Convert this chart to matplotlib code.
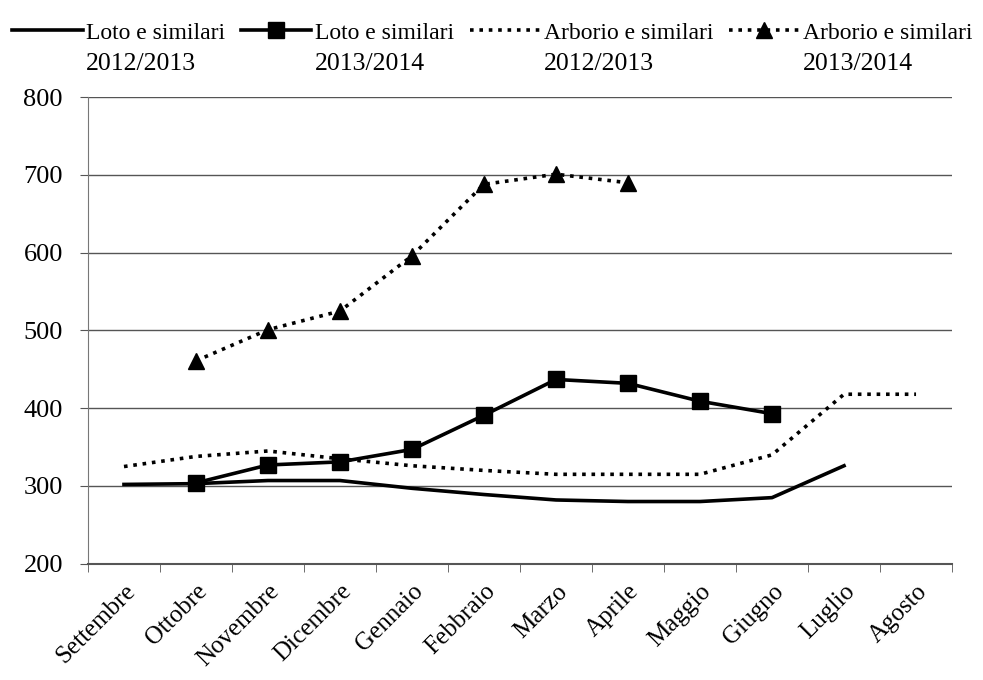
import matplotlib.pyplot as plt
from matplotlib.ticker import FixedLocator

mesi = ["Settembre", "Ottobre", "Novembre", "Dicembre", "Gennaio", "Febbraio",
        "Marzo", "Aprile", "Maggio", "Giugno", "Luglio", "Agosto"]

# None = no value for that month
loto_1213 = [302, 303, 307, 307, 297, 289, 282, 280, 280, 285, 326, None]
loto_1314 = [None, 304, 327, 331, 347, 391, 437, 432, 409, 393, None, None]
arborio_1213 = [325, 338, 345, 335, 326, 320, 315, 315, 315, 340, 418, 418]
arborio_1314 = [None, 461, 501, 525, 596, 688, 701, 690, None, None, None, None]

serie = ["Loto e similari", "Loto e similari",
         "Arborio e similari", "Arborio e similari"]
annate = ["2012/2013", "2013/2014", "2012/2013", "2013/2014"]


def xy(vals):
    xs = [i for i, v in enumerate(vals) if v is not None]
    ys = [v for v in vals if v is not None]
    return xs, ys


plt.rcParams["font.family"] = ["Liberation Serif", "DejaVu Serif"]

fig = plt.figure(figsize=(9.83, 6.8), dpi=100)
ax = fig.add_axes([0.0895, 0.171, 0.879, 0.686])

dots = (0, (1, 1.6))
x, y = xy(loto_1213)
ax.plot(x, y, color="black", lw=2.6, label=serie[0])
x, y = xy(loto_1314)
ax.plot(x, y, color="black", lw=2.6, marker="s", markersize=11, label=serie[1])
x, y = xy(arborio_1213)
ax.plot(x, y, color="black", lw=2.6, linestyle=dots, label=serie[2])
x, y = xy(arborio_1314)
ax.plot(x, y, color="black", lw=2.6, linestyle=dots, marker="^",
        markersize=11, label=serie[3])

# axes
ax.set_xlim(-0.5, 11.5)
ax.set_ylim(200, 800)
ax.set_yticks(range(200, 801, 100))
ax.grid(axis="y", color="#555555", lw=1)
ax.set_xticks(range(len(mesi)))
ax.set_xticklabels(mesi, rotation=45, ha="right", rotation_mode="anchor",
                   fontsize=18)
ax.xaxis.set_minor_locator(FixedLocator([i - 0.5 for i in range(13)]))
ax.tick_params(axis="x", which="major", length=0, pad=12)
ax.tick_params(axis="x", which="minor", length=6, color="#555555")
ax.tick_params(axis="y", length=6, labelsize=19, pad=12, color="#555555")
for s in ["top", "right"]:
    ax.spines[s].set_visible(False)
ax.spines["left"].set_color("#777777")
ax.spines["bottom"].set_color("#555555")
ax.spines["bottom"].set_linewidth(1.5)

# legend: handle next to the first line, season on a second line
leg = fig.legend(loc="upper left", bbox_to_anchor=(0.0, 0.985), ncol=4,
                 frameon=False, fontsize=17, handlelength=3.0,
                 handletextpad=0.15, columnspacing=0.65, borderaxespad=0.1)
fig.canvas.draw()  # so the legend texts have their final place
for t, anno in zip(leg.get_texts(), annate):
    ax.annotate(anno, xy=(0, 0), xycoords=t, xytext=(0, -7),
                textcoords="offset points", ha="left", va="top",
                fontsize=18.5, annotation_clip=False)

plt.savefig("out.png")
